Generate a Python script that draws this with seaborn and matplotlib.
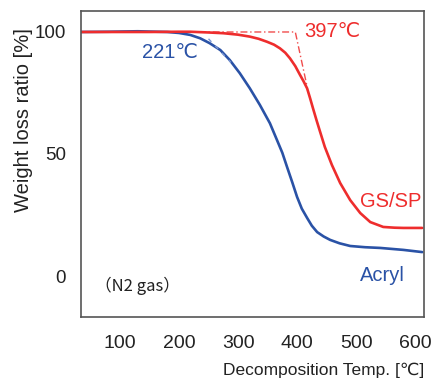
import numpy as np
import pandas as pd
import matplotlib
matplotlib.use("Agg")
import matplotlib.pyplot as plt
import seaborn as sns

# Data
acryl_temp = [34, 80, 130, 180, 200, 219, 236, 252, 270, 286, 303, 320, 337, 354,
              366, 375, 383, 392, 400, 408, 417, 425, 434, 445, 456, 472, 490, 515,
              541, 580, 612]
acryl_wt   = [100, 100.1, 100.3, 100, 99.6, 98.8, 97.4, 95.4, 92.6, 88.5, 83.1, 76.9,
              70.1, 62.6, 55.7, 50.5, 44.7, 38.3, 32.4, 27.6, 23.8, 20.6, 18.0, 16.2,
              14.8, 13.4, 12.3, 11.8, 11.5, 10.7, 9.8]
gssp_temp  = [34, 100, 150, 200, 219, 250, 275, 300, 320, 335, 349, 361, 371, 380,
              388, 397, 405, 411, 417, 422, 427, 433, 439, 447, 459, 473, 490, 507,
              524, 546, 565, 580, 612]
gssp_wt    = [100, 100, 100, 100.1, 100.1, 99.8, 99.5, 98.9, 98.1, 97.2, 96.0, 94.8,
              93.3, 91.5, 89.2, 86.0, 82.4, 79.8, 76.9, 72.9, 68.7, 63.8, 59.1, 52.9,
              45.5, 38.1, 31.1, 25.8, 22.1, 20.1, 19.8, 19.7, 19.7]

onset_line_t = [210, 397, 417]
onset_line_w = [100, 100, 77.6]
acryl_tan_t = [250, 288]
acryl_tan_w = [97.2, 87.5]

yticks = [0, 50, 100]
xticks = [100, 200, 300, 400, 500, 600]

red = "#EE2D2D"
blue = "#2A52A6"

df = pd.concat([
    pd.DataFrame({"T": acryl_temp, "W": acryl_wt, "s": "Acryl"}),
    pd.DataFrame({"T": gssp_temp, "W": gssp_wt, "s": "GS/SP"}),
])

sns.set_style("white")
plt.rcParams['font.family'] = ['Liberation Sans', 'DejaVu Sans']

fig = plt.figure(figsize=(4.32, 3.8), dpi=100)
ax = fig.add_axes([81/432, 1-317/380, (424-81)/432, (317-11)/380])

sns.lineplot(data=df, x="T", y="W", hue="s", palette={"Acryl": blue, "GS/SP": red},
             lw=1.9, legend=False, ax=ax, estimator=None, sort=True)
ax.plot(onset_line_t, onset_line_w, color=red, lw=1.0, ls=(0, (5, 2, 1, 2)), alpha=0.85)
ax.plot(acryl_tan_t, acryl_tan_w, color="#7A96D2", lw=1.0, ls=(0, (3, 4)))

ax.set_xlim(34, 615)
ax.set_ylim(-16.8, 108.6)
ax.set_xticks(xticks)
ax.set_yticks(yticks)
ax.tick_params(axis='x', length=0, labelsize=14, colors="#222222", pad=13)
ax.tick_params(axis='y', length=0, labelsize=13.5, colors="#222222", pad=11)
for s in ax.spines.values():
    s.set_color("#555555")
    s.set_linewidth(1.2)

ax.set_xlabel("Decomposition Temp. [℃]", fontsize=12.5, color="#222222")
ax.xaxis.set_label_coords(1.0, -0.15)
ax.xaxis.label.set_ha("right")
ax.set_ylabel("Weight loss ratio [%]", fontsize=14.5, color="#222222")
ax.yaxis.set_label_coords(-0.14, 0.644)

ax.text(412, 100, "397℃", color=red, fontsize=14.5, va="center", ha="left")
ax.text(184, 91.5, "221℃", color=blue, fontsize=14.5, va="center", ha="center")
ax.text(559, 30.7, "GS/SP", color=red, fontsize=14.5, va="center", ha="center")
ax.text(544, 0.4, "Acryl", color=blue, fontsize=14.5, va="center", ha="center")
ax.text(58, -4, "（N2 gas）", color="#222222", fontsize=12, va="center", ha="left",
        family=['Noto Sans CJK JP', 'DejaVu Sans'])

fig.savefig("out.png", dpi=100)
